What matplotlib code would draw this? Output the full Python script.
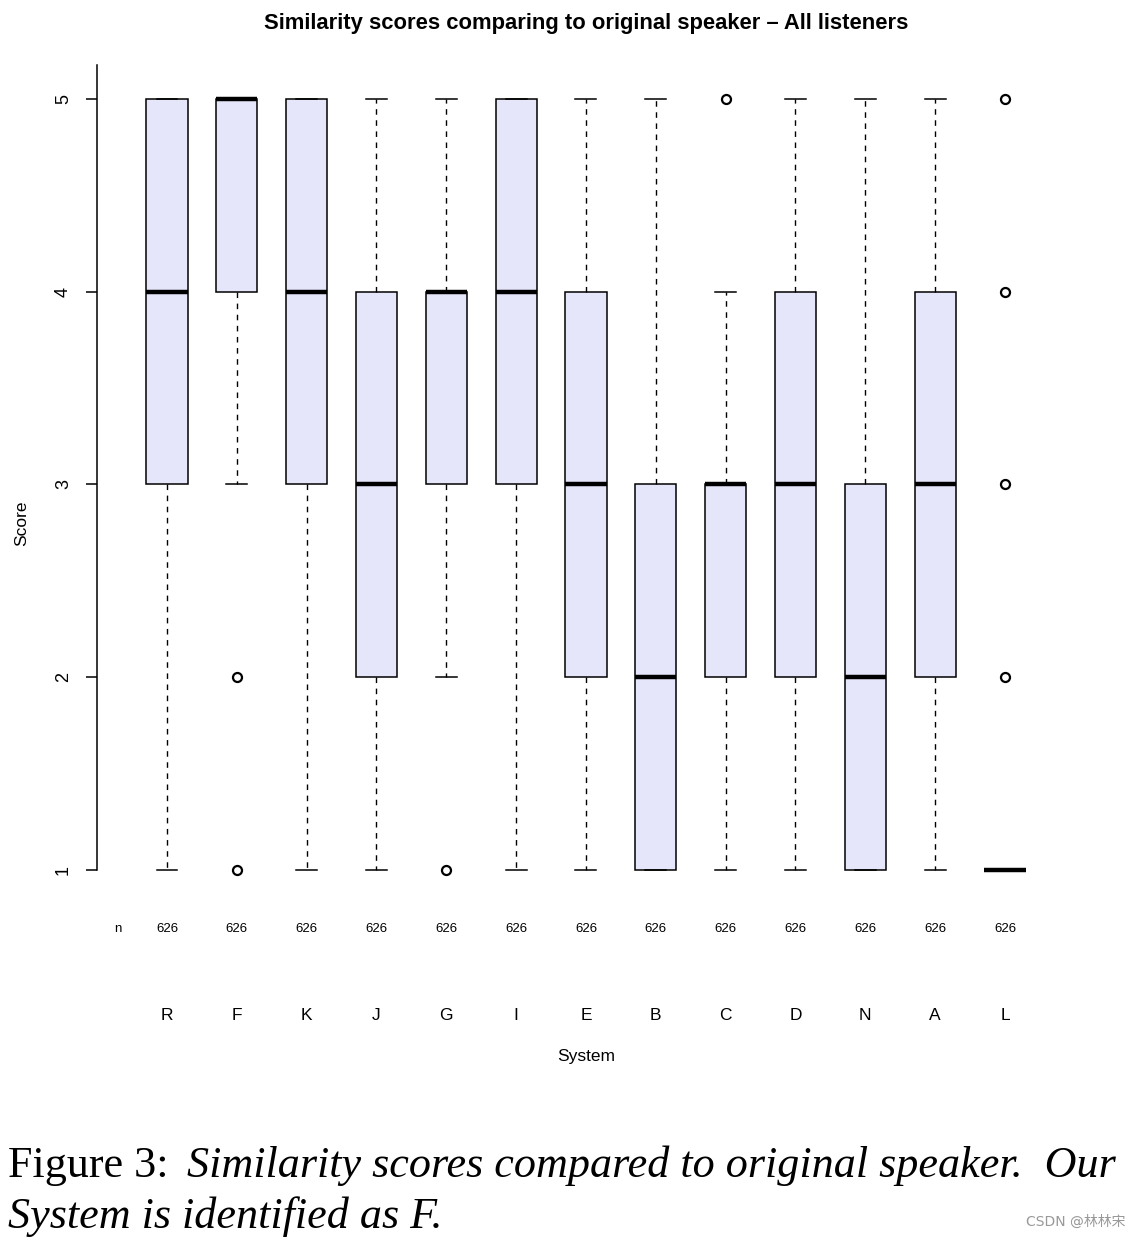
import matplotlib
matplotlib.use("Agg")
import matplotlib.pyplot as plt
from matplotlib import transforms

# per-system box statistics
systems = ["R", "F", "K", "J", "G", "I", "E", "B", "C", "D", "N", "A", "L"]
whislo = [1, 3, 1, 1, 2, 1, 1, 1, 1, 1, 1, 1, 1]
q1 = [3, 4, 3, 2, 3, 3, 2, 1, 2, 2, 1, 2, 1]
med = [4, 5, 4, 3, 4, 4, 3, 2, 3, 3, 2, 3, 1]
q3 = [5, 5, 5, 4, 4, 5, 4, 3, 3, 4, 3, 4, 1]
whishi = [5, 5, 5, 5, 5, 5, 5, 5, 4, 5, 5, 5, 1]
fliers = [[], [2, 1], [], [], [1], [], [], [], [5], [], [], [], [2, 3, 4, 5]]
counts = [626] * 13

plt.rcParams["font.family"] = ["Liberation Sans", "DejaVu Sans"]

fig = plt.figure(figsize=(11.4, 12.38), dpi=100)
W, H = 1140, 1238
ax = fig.add_axes([97 / W, 1 - 890 / H, 1 - 97 / W, (890 - 65) / H])

stats = []
for i in range(len(systems)):
    stats.append(dict(label=systems[i], whislo=whislo[i], q1=q1[i], med=med[i],
                      q3=q3[i], whishi=whishi[i], fliers=fliers[i]))

pos = list(range(1, len(systems) + 1))
ax.bxp(stats, positions=pos, widths=0.59, patch_artist=True, showfliers=True,
       boxprops=dict(facecolor="#e6e6fa", edgecolor="black", linewidth=1.1),
       medianprops=dict(color="black", linewidth=3.2, solid_capstyle="butt"),
       whiskerprops=dict(color="black", linewidth=1.0, linestyle=(0, (4, 4))),
       capprops=dict(color="black", linewidth=1.1),
       capwidths=0.3,
       flierprops=dict(marker="o", markersize=6.5, markerfacecolor="none",
                       markeredgecolor="black", markeredgewidth=1.6))

ax.set_xlim(-0.0024, 14.934)
ax.set_ylim(0.8962, 5.1764)
for s in ["top", "right", "bottom"]:
    ax.spines[s].set_visible(False)
ax.spines["left"].set_bounds(1, 5.1764)
ax.spines["left"].set_linewidth(1.1)
ax.set_xticks([])
ax.set_yticks([1, 2, 3, 4, 5])
ax.set_yticklabels(["1", "2", "3", "4", "5"], rotation=90, va="center", fontsize=13)
ax.tick_params(axis="y", length=8, width=1.1, pad=10)

# count row and system names below the plot
tr = transforms.blended_transform_factory(ax.transData, fig.transFigure)
ax.text(0.3, 1 - 929 / H, "n", transform=tr, ha="center", va="center", fontsize=9.5)
for p, n, s in zip(pos, counts, systems):
    ax.text(p, 1 - 929 / H, str(n), transform=tr, ha="center", va="center", fontsize=9.5)
    ax.text(p, 1 - 1015 / H, s, transform=tr, ha="center", va="center", fontsize=12.5)

fig.text(586 / W, 1 - 1057 / H, "System", ha="center", va="center", fontsize=12.5)
fig.text(22 / W, 1 - 523 / H, "Score", ha="center", va="center", rotation=90, fontsize=12.5)
fig.text(586 / W, 1 - 23 / H, "Similarity scores comparing to original speaker \u2013 All listeners",
         ha="center", va="center", fontsize=15.8, fontweight="bold")

# caption: upright "Figure 3:" followed by italic text
cap1 = fig.text(8 / W, 1 - 1177 / H, "Figure 3:", ha="left", va="baseline",
                fontsize=31.8, family="Liberation Serif")
fig.canvas.draw()
bb = cap1.get_window_extent()
fig.text(bb.x1 / W + 18 / W, 1 - 1177 / H,
         "Similarity scores compared to original speaker.  Our",
         ha="left", va="baseline", fontsize=31.8, family="Liberation Serif", style="italic")
fig.text(8 / W, 1 - 1228 / H, "System is identified as F.", ha="left", va="baseline",
         fontsize=31.8, family="Liberation Serif", style="italic")
fig.text(1125 / W, 1 - 1222 / H, "CSDN @林林宋", ha="right", va="center", fontsize=10,
         color="#999999", family=["DejaVu Sans", "Noto Sans CJK SC"])

fig.savefig("out.png", dpi=100, facecolor="white")
